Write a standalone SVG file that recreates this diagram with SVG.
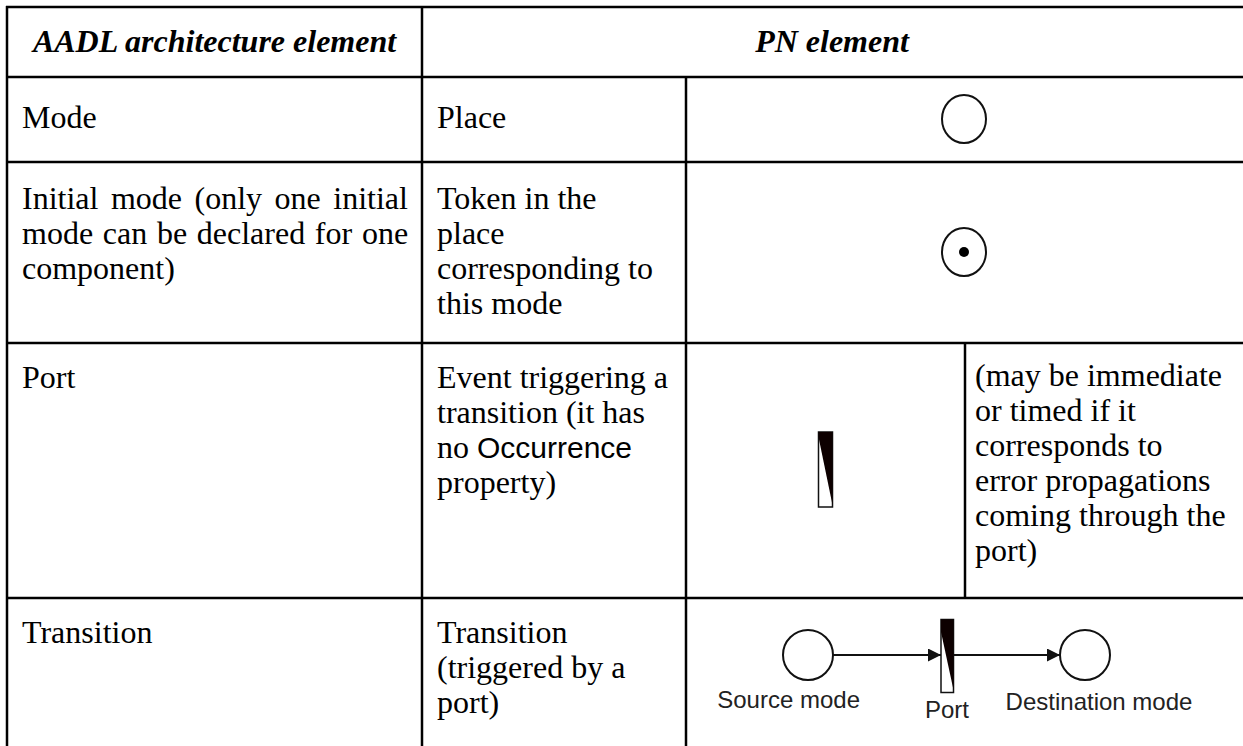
<svg xmlns="http://www.w3.org/2000/svg" width="1243" height="746" viewBox="0 0 1243 746">
<style>
.t{font-family:"Liberation Serif","Times New Roman",serif;font-size:32px;fill:#000}
.h{font-family:"Liberation Serif","Times New Roman",serif;font-size:32px;font-weight:bold;font-style:italic;fill:#000}
.s{font-family:"Liberation Sans",Arial,sans-serif;fill:#000}
.grid line{stroke:#000;stroke-width:2.5}
.place{fill:#fff;stroke:#111;stroke-width:2}
.bar{fill:#fff;stroke:#111;stroke-width:1.5}
.barfill{fill:#0d0000}
.arc{stroke:#111;stroke-width:1.8;fill:none}
.lbl{font-family:"Liberation Sans",Arial,sans-serif;font-size:24px;fill:#222}
</style>
<defs>
<marker id="ah" markerUnits="userSpaceOnUse" markerWidth="14" markerHeight="14" refX="13" refY="6.5" orient="auto">
<path d="M0,0 L13,6.5 L0,13 z" fill="#111"/>
</marker>
</defs>
<rect width="1243" height="746" fill="#fff"/>
<g id="grid" class="grid">
<line x1="6" y1="7" x2="1243" y2="7"/>
<line x1="6" y1="77" x2="1243" y2="77"/>
<line x1="6" y1="162" x2="1243" y2="162"/>
<line x1="6" y1="343" x2="1243" y2="343"/>
<line x1="6" y1="598" x2="1243" y2="598"/>
<line x1="7" y1="6" x2="7" y2="746"/>
<line x1="422" y1="6" x2="422" y2="746"/>
<line x1="686" y1="77" x2="686" y2="746"/>
<line x1="965" y1="343" x2="965" y2="598"/>
</g>
<g id="header">
<text class="h" x="214.5" y="52" text-anchor="middle">AADL architecture element</text>
<text class="h" x="832" y="52" text-anchor="middle">PN element</text>
</g>
<g id="row-mode">
<text class="t" x="22" y="128">Mode</text>
<text class="t" x="437" y="128">Place</text>
<ellipse id="place" class="place" cx="964" cy="119" rx="22" ry="24"/>
</g>
<g id="row-initial">
<text class="t" x="22" y="209" word-spacing="4.5">Initial mode (only one initial</text>
<text class="t" x="22" y="244" word-spacing="1.7">mode can be declared for one</text>
<text class="t" x="22" y="279">component)</text>
<text class="t" x="437" y="209">Token in the</text>
<text class="t" x="437" y="244">place</text>
<text class="t" x="437" y="279">corresponding to</text>
<text class="t" x="437" y="314">this mode</text>
<ellipse class="place" cx="964" cy="252" rx="22" ry="24"/>
<circle cx="964" cy="252" r="5" fill="#000"/>
</g>
<g id="row-port">
<text class="t" x="22" y="388">Port</text>
<text class="t" x="437" y="388">Event triggering a</text>
<text class="t" x="437" y="423">transition (it has</text>
<text class="t" x="437" y="458">no <tspan class="s" font-size="30">Occurrence</tspan></text>
<text class="t" x="437" y="493">property)</text>
<rect class="bar" x="818.5" y="432" width="14" height="75"/>
<polygon class="barfill" points="818.5,432 832.5,432 832.5,505 818.5,437"/>
<text class="t" x="975" y="386">(may be immediate</text>
<text class="t" x="975" y="421">or timed if it</text>
<text class="t" x="975" y="456">corresponds to</text>
<text class="t" x="975" y="491">error propagations</text>
<text class="t" x="975" y="526">coming through the</text>
<text class="t" x="975" y="561">port)</text>
</g>
<g id="row-transition">
<text class="t" x="22" y="643">Transition</text>
<text class="t" x="437" y="643">Transition</text>
<text class="t" x="437" y="678">(triggered by a</text>
<text class="t" x="437" y="713">port)</text>
</g>
<g id="connectors">
<line class="arc" x1="833" y1="655" x2="941" y2="655" marker-end="url(#ah)"/>
<line class="arc" x1="954" y1="655" x2="1060" y2="655" marker-end="url(#ah)"/>
</g>
<g id="source-mode">
<circle class="place" cx="808" cy="655" r="25"/>
<text class="lbl" x="860" y="708" text-anchor="end">Source mode</text>
</g>
<g id="port">
<rect class="bar" x="941" y="619.5" width="12.5" height="73"/>
<polygon class="barfill" points="941,619.5 953.5,619.5 953.5,690 941,632"/>
<text class="lbl" x="947" y="718" text-anchor="middle">Port</text>
</g>
<g id="destination-mode">
<circle class="place" cx="1085" cy="655" r="25"/>
<text class="lbl" x="1099" y="710" text-anchor="middle">Destination mode</text>
</g>
</svg>
